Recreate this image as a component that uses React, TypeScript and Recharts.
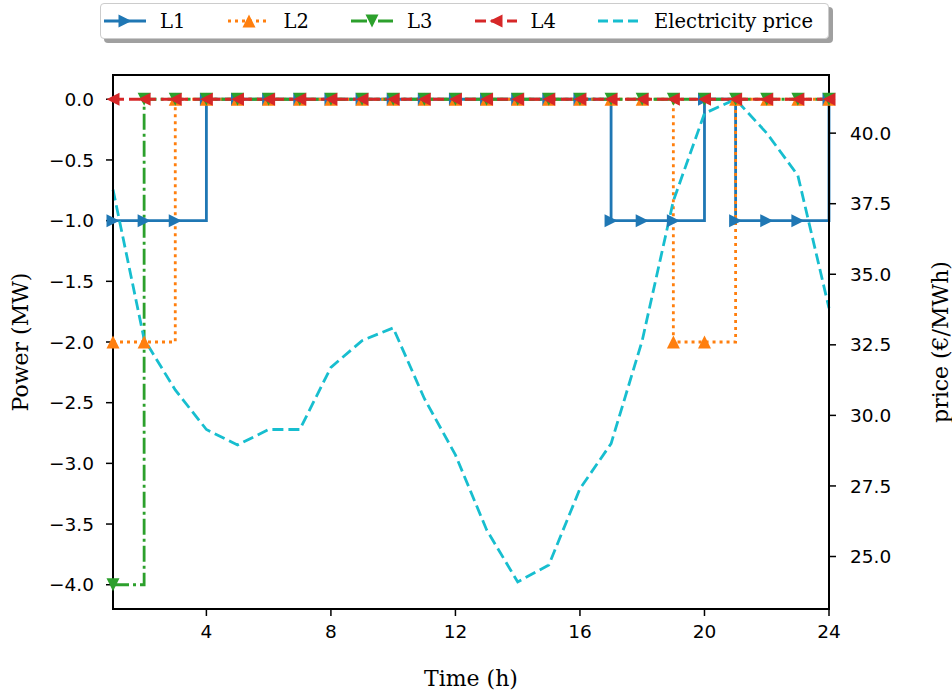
import * as React from 'react'
import { LineChart, Line, XAxis, YAxis, ReferenceArea, Label } from 'recharts'

// hours of the day
const hours = [1, 2, 3, 4, 5, 6, 7, 8, 9, 10, 11, 12, 13, 14, 15, 16, 17, 18, 19, 20, 21, 22, 23, 24]

// load power (MW)
const l1Power = [-1, -1, -1, 0, 0, 0, 0, 0, 0, 0, 0, 0, 0, 0, 0, 0, -1, -1, -1, 0, -1, -1, -1, 0]
const l2Power = [-2, -2, 0, 0, 0, 0, 0, 0, 0, 0, 0, 0, 0, 0, 0, 0, 0, 0, -2, -2, 0, 0, 0, 0]
const l3Power = [-4, 0, 0, 0, 0, 0, 0, 0, 0, 0, 0, 0, 0, 0, 0, 0, 0, 0, 0, 0, 0, 0, 0, 0]
const l4Power = [0, 0, 0, 0, 0, 0, 0, 0, 0, 0, 0, 0, 0, 0, 0, 0, 0, 0, 0, 0, 0, 0, 0, 0]

// electricity price (€/MWh)
const price = [38.0, 32.7, 30.9, 29.5, 28.95, 29.5, 29.5, 31.7, 32.65, 33.1, 30.6, 28.6,
  25.95, 24.1, 24.7, 27.4, 29.0, 32.65, 37.6, 40.7, 41.2, 40.0, 38.5, 33.8]

const timeTicks = [4, 8, 12, 16, 20, 24]
const powerTicks = [-4, -3.5, -3, -2.5, -2, -1.5, -1, -0.5, 0]
const priceTicks = [25, 27.5, 30, 32.5, 35, 37.5, 40]

const data = hours.map((t, i) => ({
  t,
  l1: l1Power[i],
  l2: l2Power[i],
  l3: l3Power[i],
  l4: l4Power[i],
  price: price[i],
}))

type Dir = 'right' | 'up' | 'down' | 'left'

const triPoints = (cx: number, cy: number, dir: Dir, r: number) => {
  let pts: number[][]
  if (dir === 'up') pts = [[0, -r], [-r, r], [r, r]]
  else if (dir === 'down') pts = [[0, r], [-r, -r], [r, -r]]
  else if (dir === 'left') pts = [[-r, 0], [r, -r], [r, r]]
  else pts = [[r, 0], [-r, -r], [-r, r]]
  return pts.map(p => `${cx + p[0]},${cy + p[1]}`).join(' ')
}

const series = [
  { key: 'l1', name: 'L1', color: '#1f77b4', dash: undefined, dir: 'right' as Dir },
  { key: 'l2', name: 'L2', color: '#ff7f0e', dash: '3 4', dir: 'up' as Dir },
  { key: 'l3', name: 'L3', color: '#2ca02c', dash: '16 4 3 4', dir: 'down' as Dir },
  { key: 'l4', name: 'L4', color: '#d62728', dash: '11 5', dir: 'left' as Dir },
]

const priceColor = '#17becf'
const serif = 'DejaVu Serif'
const sans = 'DejaVu Sans'
const lw = 2.8

const fmtPower = (v: number) => v.toFixed(1).replace('-', '\u2212')

const LegendBox = () => {
  const items = [
    ...series.map(s => ({ name: s.name, color: s.color, dash: s.dash, dir: s.dir as Dir | null })),
    { name: 'Electricity price', color: priceColor, dash: '10 5', dir: null },
  ]
  return (
    <div style={{
      position: 'absolute', left: 100, top: 3, width: 727, height: 34,
      border: '1px solid #cccccc', borderRadius: 4, background: '#fff',
      boxShadow: '4px 4px 0 #a0a0a0', fontFamily: serif, fontSize: 19.5,
    }}>
      {items.map((it, i) => (
        <div key={it.name} style={{
          position: 'absolute', left: 3 + i * 123.5, top: 0, height: 34,
          display: 'flex', alignItems: 'center', whiteSpace: 'nowrap',
        }}>
          <svg width={42} height={20} style={{ marginRight: 14 }}>
            <line x1={0} y1={10} x2={42} y2={10} stroke={it.color} strokeWidth={lw}
              strokeDasharray={it.dash} />
            {it.dir && <polygon points={triPoints(21, 10, it.dir, 6.5)} fill={it.color} />}
          </svg>
          <span>{it.name}</span>
        </div>
      ))}
    </div>
  )
}

const App = () => {
  return (
    <div style={{ position: 'absolute', left: 0, top: 0, width: 952, height: 692, background: '#fff' }}>
      <LineChart width={952} height={692} data={data}
        margin={{ top: 75, right: 0, bottom: 0, left: 0 }}>
        <XAxis dataKey="t" type="number" domain={[1, 24]} ticks={timeTicks}
          allowDecimals={false} height={83}
          axisLine={{ stroke: '#000', strokeWidth: 2 }}
          tickLine={{ stroke: '#000', strokeWidth: 1.5 }} tickSize={7} tickMargin={9}
          tick={{ fontFamily: sans, fontSize: 18.5, fill: '#000' }}>
          <Label value="Time (h)" position="insideBottom" offset={6}
            style={{ fontFamily: serif, fontSize: 22, fill: '#000' }} />
        </XAxis>
        <YAxis yAxisId="left" domain={[-4.2, 0.2]} ticks={powerTicks} width={113}
          tickFormatter={fmtPower}
          axisLine={{ stroke: '#000', strokeWidth: 2 }}
          tickLine={{ stroke: '#000', strokeWidth: 1.5 }} tickSize={7} tickMargin={12}
          tick={{ fontFamily: sans, fontSize: 18.5, fill: '#000' }}>
          <Label value="Power (MW)" angle={-90} position="insideLeft" offset={20}
            style={{ fontFamily: serif, fontSize: 22, fill: '#000', textAnchor: 'middle' }} />
        </YAxis>
        <YAxis yAxisId="right" orientation="right" domain={[23.14, 42.06]} ticks={priceTicks}
          width={123} tickFormatter={(v: number) => v.toFixed(1)}
          axisLine={{ stroke: '#000', strokeWidth: 2 }}
          tickLine={{ stroke: '#000', strokeWidth: 1.5 }} tickSize={7} tickMargin={14}
          tick={{ fontFamily: sans, fontSize: 18.5, fill: '#000' }}>
          <Label value="price (€/MWh)" angle={-90} position="insideRight" offset={12}
            style={{ fontFamily: serif, fontSize: 22, fill: '#000', textAnchor: 'middle' }} />
        </YAxis>
        <ReferenceArea yAxisId="left" x1={1} x2={24} y1={-4.2} y2={0.2}
          fill="none" stroke="#000" strokeWidth={2} />
        {series.map(s => (
          <Line key={s.key} yAxisId="left" type="stepAfter" dataKey={s.key} name={s.name}
            stroke={s.color} strokeWidth={lw} strokeDasharray={s.dash}
            isAnimationActive={false}
            dot={(p: any) => (
              <polygon key={`${s.key}-${p.index}`} points={triPoints(p.cx, p.cy, s.dir, 6.5)}
                fill={s.color} />
            )}
            activeDot={false} />
        ))}
        <Line yAxisId="right" type="linear" dataKey="price" name="Electricity price"
          stroke={priceColor} strokeWidth={lw} strokeDasharray="11 5" dot={false}
          activeDot={false} isAnimationActive={false} />
      </LineChart>
      <LegendBox />
    </div>
  )
}

export default App
